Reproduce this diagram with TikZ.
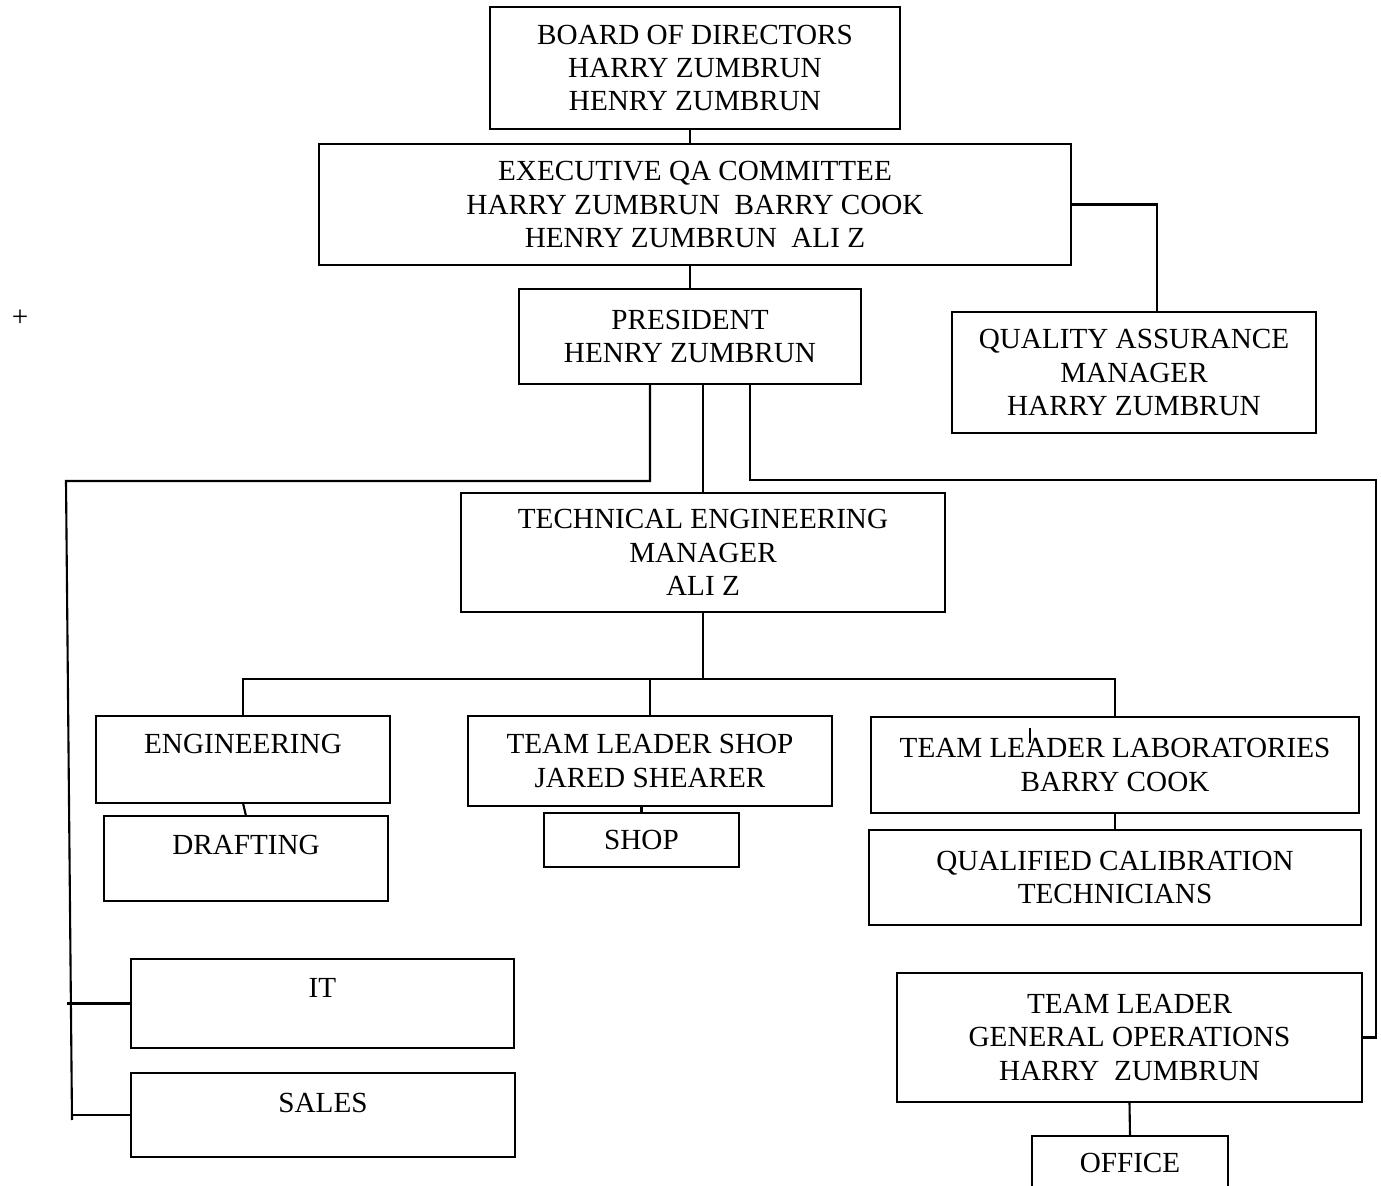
\documentclass[tikz,border=0pt]{standalone}
\usepackage{fontspec}
\setmainfont{Liberation Serif}
\usepackage{tikz}
\usetikzlibrary{positioning, calc}
\newcommand{\orgfont}{\fontsize{8.3}{9.5}\selectfont}
\tikzset{
    orgbox/.style={rectangle, draw=black, line width=0.6pt, align=center,
        inner sep=0pt, outer sep=0pt, font=\orgfont},
    toptext/.style={text height=6pt, text depth=#1},
    orgline/.style={line width=0.6pt},
}

\begin{document}
\begin{tikzpicture}[x=0.1mm, y=-0.1mm]
    \useasboundingbox (0,0) rectangle (1381,1186);
    \fill[white] (0,0) rectangle (1381,1186);
    \clip (0,0) rectangle (1381,1186);

    % top of the chart
    \node[orgbox, minimum width=41mm, minimum height=12.2mm] (board) at (695,68)
        {BOARD OF DIRECTORS\\HARRY ZUMBRUN\\HENRY ZUMBRUN};
    \node[orgbox, minimum width=75.2mm, minimum height=12.1mm] (exec) at (695,204.5)
        {EXECUTIVE QA COMMITTEE\\HARRY ZUMBRUN\ \ BARRY COOK\\HENRY ZUMBRUN\ \ ALI Z};
    \node[orgbox, minimum width=34.2mm, minimum height=9.5mm] (pres) at (690,336.5)
        {PRESIDENT\\HENRY ZUMBRUN};
    \node[orgbox, minimum width=36.4mm, minimum height=12.1mm] (qa) at (1134,372.5)
        {QUALITY ASSURANCE\\MANAGER\\HARRY ZUMBRUN};
    \node[font=\orgfont] (plus) at (20,318) {+};

    % technical branch
    \node[orgbox, minimum width=48.4mm, minimum height=11.9mm] (tech) at (703,552.5)
        {TECHNICAL ENGINEERING\\MANAGER\\ALI Z};
    \node[orgbox, toptext=9.3pt, minimum width=29.4mm, minimum height=8.7mm] (eng) at (243,759.5)
        {ENGINEERING};
    \node[orgbox, toptext=8.2pt, minimum width=28.4mm, minimum height=8.5mm, below=1.3mm of eng, xshift=0.3mm] (draft)
        {DRAFTING};
    \node[orgbox, minimum width=36.4mm, minimum height=9mm] (shoplead) at (650,761)
        {TEAM LEADER SHOP\\JARED SHEARER};
    \node[orgbox, minimum width=19.5mm, minimum height=5.4mm, below=0.7mm of shoplead, xshift=-0.85mm] (shop)
        {SHOP};
    \node[orgbox, minimum width=48.8mm, minimum height=9.6mm] (lab) at (1115,765)
        {TEAM LEADER LABORATORIES\\BARRY COOK};
    \node[orgbox, minimum width=49.2mm, minimum height=9.5mm, below=1.7mm of lab] (qual)
        {QUALIFIED CALIBRATION\\TECHNICIANS};

    % side branches
    \node[orgbox, toptext=9.3pt, minimum width=38.3mm, minimum height=8.9mm] (it) at (322.5,1003.5)
        {IT};
    \node[orgbox, toptext=7.3pt, minimum width=38.4mm, minimum height=8.4mm, below=2.5mm of it, xshift=0.05mm] (sales)
        {SALES};
    \node[orgbox, minimum width=46.5mm, minimum height=12.9mm] (gen) at (1129.5,1037.5)
        {TEAM LEADER\\GENERAL OPERATIONS\\HARRY\ \ ZUMBRUN};
    \node[orgbox, minimum width=19.6mm, minimum height=5.4mm, below=3.4mm of gen, xshift=0.05mm] (office)
        {OFFICE};

    \coordinate (lt) at (66,481);
    \coordinate (lb) at (72,1120);
    \coordinate (rt) at (1376,480);
    \coordinate (bus) at (703,679);

    % connectors
    \draw[orgline] (board.south -| pres) -- (exec.north -| pres);
    \draw[orgline] (exec.south -| pres) -- (pres.north);
    \draw[orgline] (exec.east) -| ([xshift=2.3mm]qa.north);
    \draw[orgline] ([xshift=-4mm]pres.south) |- (lt) -- (lb);
    \draw[orgline] (it.west) -- ++(-64,0);
    \draw[orgline] (sales.west) -- ++(-59,0);
    \draw[orgline] (tech.north) -- (tech.north |- pres.south);
    \draw[orgline] ([xshift=6mm]pres.south) |- (rt) |- (gen.east);
    \draw[orgline] (tech.south) -- (bus);
    \draw[orgline] (eng.north) |- (bus) -| (lab.north);
    \draw[orgline] (shoplead.north) -- (shoplead.north |- bus);
    \draw[orgline] (eng.south) -- (draft.north);
    \draw[orgline] (shop.north) -- (shop.north |- shoplead.south);
    \draw[orgline] (lab.south) -- (qual.north);
    \draw[orgline] (gen.south) -- (office.north);
    \draw[line width=0.4pt] ([xshift=-8.5mm, yshift=3.7mm]lab.center) -- ++(0,15);
\end{tikzpicture}
\end{document}
